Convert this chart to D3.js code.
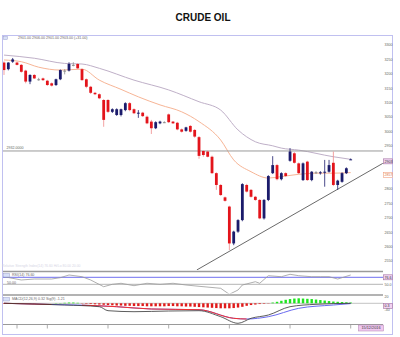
<!DOCTYPE html>
<html lang="en">
<head>
<meta charset="UTF-8">
<title>Crude Oil</title>
<script src="https://d3js.org/d3.v7.min.js"></script>
<style>
  body { margin: 0; background: #fff; }
  text { font-family: "Liberation Sans", Arial, sans-serif; }
</style>
</head>
<body>
<div id="chart"></div>
<script>
const width = 400, height = 337;

// candle data, one entry per session
const opens  = [3239,3216,3242,3239,3231,3211,3173,3196,3181,3184,3176,3167,3161,3181,3210,3211,3231,3234,3216,3181,
                3155,3134,3129,3109,3109,3068,3057,3057,3074,3098,3077,3063,3065,3051,3034,3011,3028,3032,3059,3034,
                3030,3007,3002,3019,3005,2980,2932,2930,2912,2855,2814,2771,2739,2611,2652,2692,2814,2797,2773,2762,
                2698,2762,2855,2883,2834,2855,2898,2924,2889,2831,2895,2831,2857,2855,2858,2860,2891,2814,2825,2855,2901];
const highs  = [3243,3240,3255,3242,3234,3214,3198,3199,3186,3187,3179,3170,3183,3215,3216,3240,3240,3237,3219,3184,
                3158,3137,3132,3112,3112,3080,3080,3079,3101,3102,3080,3074,3068,3055,3040,3035,3037,3035,3062,3036,
                3033,3010,3016,3022,3008,2984,2934,2933,2916,2858,2817,2774,2742,2655,2695,2820,2818,2800,2776,2765,
                2765,2848,2914,2887,2858,2858,2942,2928,2892,2892,2898,2862,2862,2862,2901,2901,2930,2832,2858,2875,2906];
const lows   = [3196,3212,3238,3229,3204,3167,3164,3182,3176,3175,3158,3156,3158,3178,3198,3208,3226,3217,3176,3150,
                3130,3126,3112,3016,3064,3064,3054,3052,3070,3070,3060,3047,3050,3025,2991,3008,3025,3029,3029,3026,
                3004,2996,2999,2996,2978,2905,2912,2910,2852,2797,2776,2756,2588,2605,2648,2688,2788,2770,2759,2695,
                2694,2758,2852,2830,2830,2842,2895,2888,2852,2828,2828,2827,2852,2850,2808,2857,2810,2797,2822,2852,2901];
const closes = [3213,3239,3250,3231,3207,3173,3196,3184,3180,3178,3161,3159,3181,3213,3211,3234,3231,3219,3178,3155,
                3134,3129,3115,3040,3068,3077,3077,3077,3098,3074,3063,3065,3053,3028,3011,3032,3034,3032,3032,3028,
                3007,2999,3014,2999,2982,2915,2918,2912,2855,2814,2779,2759,2611,2652,2692,2817,2791,2773,2762,2698,
                2762,2845,2883,2834,2855,2845,2930,2891,2855,2889,2831,2860,2858,2858,2860,2883,2814,2829,2855,2872,2903];

// moving averages: [session, price]
const maFast = [[0,3248],[4,3242],[8,3223],[13,3213],[18,3216],[22,3178],[27,3146],[31,3120],[36,3092],[41,3068],
                [45,3034],[50,2970],[53,2901],[57,2860],[61,2838],[64,2843],[68,2851],[72,2855],[76,2855],[80,2857]];
const maSlow = [[0,3265],[7,3254],[14,3236],[18,3234],[22,3219],[30,3178],[38,3144],[45,3103],[50,3074],[54,3005],
                [58,2964],[62,2950],[64,2942],[68,2935],[76,2912],[80,2903]];

const resistance = 2932;
const trendLine = [[44.5,2519],[87.4,2889]];

const priceTicks = [3300,3250,3200,3150,3100,3050,3000,2950,2900,2850,2800,2750,2700,2650,2600,2550];

// RSI(14)
const rsi = [[0,71.7],[4,62.3],[7,65.1],[11,65.1],[13,68.9],[15,76.6],[18,71.7],[20,62.3],[23,43.1],[25,50],
             [27,52.9],[30,46],[33,52.9],[36,50],[39,52.9],[42,48],[45,44.3],[50,38.6],[52,21.4],[54,33.7],
             [55,48],[58,57.4],[59,52.9],[61,74.6],[64,71.7],[66,78.6],[68,74.6],[71,71.7],[73,71.7],[75,71.7],
             [77,65.1],[78,68.9],[80,76.6]];
const rsiLevels = [70, 50];

// MACD(12,26,9)
const macd = [[0,0],[7,-2.8],[14,-6.8],[22,-13.6],[24,-29.6],[30,-33.6],[38,-30.8],[45,-29.6],[50,-53.6],
              [54,-80],[57,-60],[61,-46.8],[66,-13.6],[72,-4],[80,0]];
const signal = [[0,0],[11,-4.8],[17,-6.8],[26,-13.6],[34,-22.8],[45,-25.6],[53,-60],[56,-62.8],[61,-53.6],
                [68,-20],[76,-6.8],[80,-1.2]];
const signalRedRanges = [[0,11],[18,56]];
const hist = [-2,-2,-1,-1,-1,0,-1,-1,0,0,0,0,1,1,2,3,3,2,-1,-2,-3,-4,-5,-6,-7,-8,-9,-9,-10,-10,-11,
              -11,-11,-12,-12,-12,-12,-12,-11,-11,-12,-12,-13,-13,-14,-15,-16,-17,-18,-19,-20,-20,-20,-19,-17,-14,-10,
              -7,-5,-3,-2,-1,3,6,10,14,17,19,20,19,18,17,15,13,11,9,7,6,5,4,3];

const dateTicks = [3,10,24,38,52,66,80];
const lastDate = "15/12/2016";

const svg = d3.select("#chart").append("svg")
  .attr("width", width).attr("height", height)
  .style("display", "block");

const x = d3.scaleLinear().domain([0, 80]).range([4, 350.7]);
const y = d3.scaleLinear().domain([3300, 2550]).range([45, 261]);
const yRsi = d3.scaleLinear().domain([70, 50]).range([277.3, 284.3]);
const yMacd = d3.scaleLinear().domain([0, -80]).range([303.3, 323.3]);

const plotRight = 383;

// title
svg.append("text")
  .attr("x", 203).attr("y", 20.5)
  .attr("text-anchor", "middle")
  .attr("font-size", "10px").attr("font-weight", "bold")
  .attr("fill", "#111")
  .text("CRUDE OIL");

// outer frame
svg.append("rect")
  .attr("x", 2.5).attr("y", 35.5).attr("width", 390).attr("height", 299)
  .attr("fill", "none").attr("stroke", "#c0c0f0").attr("stroke-width", 1);

const defs = svg.append("defs");
function clip(id, x0, y0, w, h) {
  defs.append("clipPath").attr("id", id).append("rect")
    .attr("x", x0).attr("y", y0).attr("width", w).attr("height", h);
}
clip("mainClip", 3, 36, plotRight - 3, 234);
clip("rsiClip", 3, 272.5, plotRight - 3, 21);
clip("macdClip", 3, 296, plotRight - 3, 28);

const tiny = (sel) => sel.attr("font-size", "3.6px").attr("fill", "#666");

// ---------- main price panel ----------
const main = svg.append("g").attr("clip-path", "url(#mainClip)");

const line = (ys) => d3.line().x(d => x(d[0])).y(d => ys(d[1])).curve(d3.curveMonotoneX);

main.append("path").datum(maSlow)
  .attr("d", line(y)).attr("fill", "none")
  .attr("stroke", "#bfb0c8").attr("stroke-width", 1);
main.append("path").datum(maFast)
  .attr("d", line(y)).attr("fill", "none")
  .attr("stroke", "#f7b596").attr("stroke-width", 1);

// resistance line
main.append("line")
  .attr("x1", 3).attr("x2", plotRight)
  .attr("y1", y(resistance)).attr("y2", y(resistance))
  .attr("stroke", "#9a9a9a").attr("stroke-width", 1);

// rising trend line
main.append("line")
  .attr("x1", x(trendLine[0][0])).attr("y1", y(trendLine[0][1]))
  .attr("x2", x(trendLine[1][0])).attr("y2", y(trendLine[1][1]))
  .attr("stroke", "#6a6a6a").attr("stroke-width", 1);

const candles = opens.map((o, i) => ({ i, o, h: highs[i], l: lows[i], c: closes[i] }));
const candleColor = d => Math.abs(d.c - d.o) <= 1 ? "#8c8c8c" : (d.c > d.o ? "#1b1b6b" : "#e3141b");
const bodyW = 2.8;

const cg = main.selectAll("g.candle").data(candles).join("g").attr("class", "candle");
cg.append("line")
  .attr("x1", d => x(d.i)).attr("x2", d => x(d.i))
  .attr("y1", d => y(d.h)).attr("y2", d => y(d.l))
  .attr("stroke", d => candleColor(d) === "#e3141b" ? "#f08a8a" : candleColor(d))
  .attr("stroke-width", 0.8);
cg.append("rect")
  .attr("x", d => x(d.i) - bodyW / 2)
  .attr("y", d => y(Math.max(d.o, d.c)))
  .attr("width", bodyW)
  .attr("height", d => Math.max(1, Math.abs(y(d.o) - y(d.c))))
  .attr("fill", candleColor);

// header info
svg.append("rect").attr("x", 3.5).attr("y", 36.5).attr("width", 4).attr("height", 3)
  .attr("fill", "#d8e0f8").attr("stroke", "#8890c0").attr("stroke-width", 0.4);
const last = candles[candles.length - 1];
svg.append("text").attr("x", 18).attr("y", 39).call(tiny)
  .text(`${last.o.toFixed(2)} ${last.h.toFixed(2)} ${last.l.toFixed(2)} ${last.c.toFixed(2)} (+31.00)`);
svg.append("text").attr("x", 6.5).attr("y", y(resistance) - 1.5).call(tiny)
  .text(resistance.toFixed(4));
svg.append("text").attr("x", 2).attr("y", 267).attr("font-size", "3.4px").attr("fill", "#d6d6e6")
  .text("Relative Strength Index(14) 76.60 Hi/Lo 80.00 20.00");

// price axis
svg.selectAll("text.ptick").data(priceTicks).join("text")
  .attr("class", "ptick")
  .attr("x", 384.5).attr("y", d => y(d) + 1.3)
  .call(tiny).text(d => d);

function valueBox(v, yy, fill, stroke, color) {
  svg.append("rect").attr("x", 383.5).attr("y", yy - 2.5).attr("width", 9).attr("height", 5)
    .attr("fill", fill).attr("stroke", stroke).attr("stroke-width", 0.6);
  svg.append("text").attr("x", 384.5).attr("y", yy + 1.3)
    .attr("font-size", "3.6px").attr("fill", color).text(v);
}
valueBox(last.c, y(last.c) + 2, "#f2d2f2", "#a070a0", "#333");
valueBox(maFast[maFast.length - 1][1], y(maFast[maFast.length - 1][1]) + 2.5, "#fff", "#f0a080", "#e07040");

// panel separators
svg.append("line").attr("x1", 3).attr("x2", plotRight).attr("y1", 271.5).attr("y2", 271.5)
  .attr("stroke", "#9a9a9a").attr("stroke-width", 1.5);
svg.append("line").attr("x1", 3).attr("x2", plotRight).attr("y1", 295).attr("y2", 295)
  .attr("stroke", "#9a9a9a").attr("stroke-width", 1.5);

// ---------- RSI panel ----------
const rp = svg.append("g").attr("clip-path", "url(#rsiClip)");
rp.append("line").attr("x1", 3).attr("x2", plotRight)
  .attr("y1", yRsi(rsiLevels[0])).attr("y2", yRsi(rsiLevels[0]))
  .attr("stroke", "#6e6ef0").attr("stroke-width", 1);
rp.append("line").attr("x1", 3).attr("x2", plotRight)
  .attr("y1", yRsi(rsiLevels[1])).attr("y2", yRsi(rsiLevels[1]))
  .attr("stroke", "#b4b4b4").attr("stroke-width", 1);
rp.append("path").datum(rsi).attr("d", line(yRsi).curve(d3.curveLinear))
  .attr("fill", "none").attr("stroke", "#9a9a9a").attr("stroke-width", 0.8);

svg.append("rect").attr("x", 3.5).attr("y", 273.5).attr("width", 6).attr("height", 3.5)
  .attr("fill", "#d8e0f8").attr("stroke", "#8890c0").attr("stroke-width", 0.4);
svg.append("text").attr("x", 12).attr("y", 276.3).call(tiny).text("RSI(14) 76.60");
svg.append("text").attr("x", 7).attr("y", yRsi(rsiLevels[1]) - 0.8).call(tiny).text("50.00");
valueBox("76.6", yRsi(rsiLevels[0]), "#f2d2f2", "#a070a0", "#333");
svg.append("text").attr("x", 384.5).attr("y", yRsi(rsiLevels[1]) + 2).call(tiny).text("50.0");

// ---------- MACD panel ----------
const mp = svg.append("g").attr("clip-path", "url(#macdClip)");
mp.append("line").attr("x1", 3).attr("x2", plotRight)
  .attr("y1", yMacd(0)).attr("y2", yMacd(0))
  .attr("stroke", "#b4b4b4").attr("stroke-width", 0.8);
mp.selectAll("rect.hist").data(hist).join("rect")
  .attr("class", "hist")
  .attr("x", (d, i) => x(i) - 1.2)
  .attr("width", 2.4)
  .attr("y", d => d >= 0 ? yMacd(d) : yMacd(0))
  .attr("height", d => Math.abs(yMacd(d) - yMacd(0)))
  .attr("fill", d => d >= 0 ? "#1ee61e" : "#e01a1a");

mp.append("path").datum(signal).attr("d", line(yMacd))
  .attr("fill", "none").attr("stroke", "#6a6af0").attr("stroke-width", 1);
signalRedRanges.forEach((r, k) => {
  clip("sigRed" + k, x(r[0]), 296, x(r[1]) - x(r[0]), 28);
  mp.append("g").attr("clip-path", `url(#sigRed${k})`)
    .append("path").datum(signal).attr("d", line(yMacd))
    .attr("fill", "none").attr("stroke", "#f03030").attr("stroke-width", 1);
});
mp.append("path").datum(macd).attr("d", line(yMacd))
  .attr("fill", "none").attr("stroke", "#333").attr("stroke-width", 0.8);

svg.append("rect").attr("x", 3.5).attr("y", 297.5).attr("width", 6).attr("height", 3.5)
  .attr("fill", "#d8e0f8").attr("stroke", "#8890c0").attr("stroke-width", 0.4);
svg.append("text").attr("x", 12).attr("y", 300.3).call(tiny).text("MACD(12,26,9) 0.32 Sig(9) -1.21");
svg.append("text").attr("x", 384.5).attr("y", 297.5).call(tiny).text("20");
valueBox("0.3", yMacd(0) + 2.5, "#f2d2f2", "#a070a0", "#333");
svg.append("text").attr("x", 384.5).attr("y", 311).call(tiny).text("-40");

// ---------- time axis ----------
svg.append("line").attr("x1", 3).attr("x2", plotRight).attr("y1", 324.5).attr("y2", 324.5)
  .attr("stroke", "#9a9a9a").attr("stroke-width", 1);
svg.selectAll("line.dtick").data(dateTicks).join("line")
  .attr("class", "dtick")
  .attr("x1", d => x(d)).attr("x2", d => x(d))
  .attr("y1", 325).attr("y2", 328.5)
  .attr("stroke", "#777").attr("stroke-width", 0.6);

svg.append("rect").attr("x", 358.5).attr("y", 325).attr("width", 25).attr("height", 6)
  .attr("fill", "#f0c8f0").attr("stroke", "#b080b0").attr("stroke-width", 0.5);
svg.append("text").attr("x", 371).attr("y", 329.3).attr("text-anchor", "middle")
  .attr("font-size", "3.8px").attr("fill", "#333").text(lastDate);
</script>
</body>
</html>
